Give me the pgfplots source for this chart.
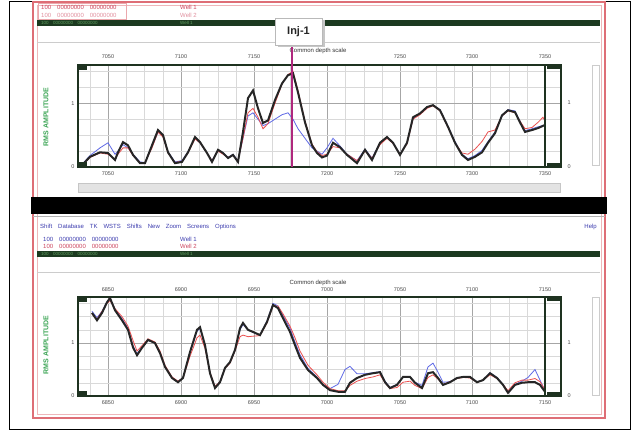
\documentclass[border=0pt]{standalone}
\usepackage{pgfplots}
\pgfplotsset{compat=1.18}
\usepackage{fontspec}
\setmainfont{Liberation Sans}
\definecolor{frame}{RGB}{30,50,32}
\definecolor{dkgreen}{RGB}{28,58,32}
\definecolor{redb}{RGB}{222,110,118}
\definecolor{txtred}{RGB}{205,70,95}
\definecolor{txtblue}{RGB}{60,60,175}
\definecolor{labgreen}{RGB}{60,165,85}
\definecolor{inj}{RGB}{175,40,125}
\definecolor{cred}{RGB}{235,80,80}
\definecolor{cblue}{RGB}{95,105,230}
\newcommand{\tf}{\fontsize{5.5}{6}\selectfont}
\newcommand{\hf}{\fontsize{6}{7}\selectfont}
\pgfplotsset{panel/.style={
  scale only axis, width=483pt, anchor=south west,
  xmin=78, xmax=561, ymin=0,
  xtick={108,181,254,327,400,472,545},
  minor xtick={90,126,144,163,199,218,236,272,290,309,345,364,382,418,436,454,490,509,527},
  ytick={0,1},
  grid=both,
  major grid style={gray!70, line width=0.6pt},
  minor grid style={gray!30, line width=0.45pt},
  axis line style={line width=2pt, draw=frame},
  tick style={draw=none},
  tick label style={font=\tf, text=gray!60!black},
  /pgf/number format/assume math mode=true,
  xticklabel style={yshift=-1pt},
}}
\begin{document}
\begin{tikzpicture}[x=1pt,y=1pt]
\path[use as bounding box, fill=white] (0,0) rectangle (635,433);
% outer frame
\draw[black, line width=0.8pt] (9,432) rectangle (630,4);
% red panel border
\draw[redb, line width=2.4pt] (33,431) rectangle (605,15);
\draw[redb!50, line width=0.5pt] (37,428) rectangle (601,19);
% black divider
\fill[black] (31,433-197) rectangle (607,433-214);
\draw[gray!60, line width=0.8pt] (33,433-216) -- (605,433-216);
% upper header
\draw[redb!60, line width=0.4pt] (38,433-3) rectangle (126,433-19);
\node[anchor=west, font=\hf, text=txtred, inner sep=0] at (41,433-7) {100\quad 00000000\quad 00000000};
\node[anchor=west, font=\hf, text=txtred, inner sep=0] at (180,433-7) {Well 1};
\node[anchor=west, font=\hf, text=txtred!60, inner sep=0] at (41,433-15) {100\quad 00000000\quad 00000000};
\node[anchor=west, font=\hf, text=txtred!60, inner sep=0] at (180,433-15) {Well 2};
\fill[dkgreen] (37,433-20.5) rectangle (600,433-26);
\node[anchor=west, font=\fontsize{4.5}{5}\selectfont, text=green!25!gray, inner sep=0] at (41,433-23.3) {100\quad 00000000\quad 00000000};
\node[anchor=west, font=\fontsize{4.5}{5}\selectfont, text=green!25!gray, inner sep=0] at (180,433-23.3) {Well 1};
\draw[gray!40, line width=0.6pt] (37,433-42) -- (600,433-42);
% upper scrollbars
\fill[gray!22] (78,433-183) rectangle (560,433-192);
\draw[gray!45, line width=0.4pt] (78,433-183) rectangle (560,433-192);
\draw[gray!40, line width=0.6pt] (592,433-65) rectangle (599,433-165);
% lower header
\node[anchor=west, font=\hf, text=txtblue, inner sep=0] at (40,433-227) {Shift\quad Database\quad TK\quad WSTS\quad Shifts\quad New\quad Zoom\quad Screens\quad Options};
\node[anchor=east, font=\hf, text=txtblue, inner sep=0] at (597,433-227) {Help};
\node[anchor=west, font=\hf, text=txtblue, inner sep=0] at (43,433-239) {100\quad 00000000\quad 00000000};
\node[anchor=west, font=\hf, text=txtblue, inner sep=0] at (180,433-239) {Well 1};
\node[anchor=west, font=\hf, text=txtred, inner sep=0] at (43,433-246.5) {100\quad 00000000\quad 00000000};
\node[anchor=west, font=\hf, text=txtred, inner sep=0] at (180,433-246.5) {Well 2};
\fill[dkgreen] (37,433-251) rectangle (600,433-257);
\node[anchor=west, font=\fontsize{4.5}{5}\selectfont, text=green!25!gray, inner sep=0] at (41,433-254) {100\quad 00000000\quad 00000000};
\node[anchor=west, font=\fontsize{4.5}{5}\selectfont, text=green!25!gray, inner sep=0] at (180,433-254) {Well 1};
\draw[gray!40, line width=0.6pt] (37,433-272) -- (600,433-272);
\draw[gray!40, line width=0.6pt] (592,433-297) rectangle (599,433-395);

% ---------- upper panel ----------
\begin{axis}[panel, at={(78pt,266pt)}, height=102pt, ymax=1.6,
  minor ytick={0.25,0.5,0.75,1.25,1.5},
  xticklabels={7050,7100,7150,7200,7250,7300,7350}]
\addplot[cblue, line width=0.8pt] coordinates {
(82,0.04)(90,0.18)(100,0.3)(108,0.38)(115,0.2)(118,0.25)(123,0.35)(128,0.3)(133,0.2)(140,0.08)(145,0.07)(152,0.32)(158,0.55)(163,0.48)(168,0.24)(175,0.08)(182,0.1)(188,0.24)(195,0.45)(200,0.38)(207,0.22)(212,0.1)(218,0.26)(223,0.22)(228,0.15)(233,0.2)(238,0.1)(243,0.45)(248,0.8)(253,0.85)(258,0.75)(263,0.65)(268,0.68)(275,0.75)(282,0.82)(288,0.85)(293,0.75)(298,0.6)(305,0.45)(312,0.3)(317,0.25)(322,0.2)(327,0.3)(333,0.45)(340,0.33)(347,0.2)(357,0.1)(365,0.28)(372,0.14)(380,0.38)(387,0.47)(393,0.38)(400,0.2)(407,0.38)(413,0.76)(420,0.84)(427,0.93)(433,0.97)(440,0.9)(448,0.64)(455,0.4)(462,0.2)(468,0.13)(475,0.18)(482,0.26)(488,0.4)(495,0.55)(502,0.8)(508,0.9)(515,0.88)(520,0.72)(525,0.57)(532,0.6)(538,0.63)(545,0.66)};
\addplot[cred, line width=0.8pt] coordinates {
(82,0.03)(90,0.15)(100,0.22)(108,0.2)(115,0.12)(118,0.2)(123,0.3)(128,0.3)(133,0.18)(140,0.07)(145,0.07)(152,0.3)(158,0.55)(163,0.47)(168,0.22)(175,0.07)(182,0.09)(188,0.22)(195,0.44)(200,0.38)(207,0.22)(212,0.1)(218,0.25)(223,0.2)(228,0.15)(233,0.18)(238,0.1)(243,0.45)(248,0.85)(253,0.92)(258,0.78)(263,0.6)(268,0.68)(275,1.0)(282,1.3)(288,1.45)(293,1.5)(298,1.2)(305,0.72)(312,0.36)(317,0.24)(322,0.18)(327,0.2)(333,0.32)(340,0.3)(347,0.2)(357,0.1)(365,0.25)(372,0.14)(380,0.35)(387,0.45)(393,0.37)(400,0.2)(407,0.36)(413,0.75)(420,0.82)(427,0.92)(433,0.96)(440,0.88)(448,0.62)(455,0.38)(462,0.22)(468,0.2)(475,0.28)(482,0.4)(488,0.55)(495,0.58)(502,0.8)(508,0.88)(515,0.85)(520,0.72)(525,0.6)(532,0.62)(538,0.7)(543,0.78)(545,0.72)};
\addplot[black!85, line width=2pt] coordinates {
(82,0.03)(90,0.16)(100,0.23)(108,0.22)(115,0.11)(118,0.23)(123,0.39)(128,0.34)(133,0.19)(140,0.06)(145,0.06)(152,0.34)(158,0.58)(163,0.5)(168,0.23)(175,0.06)(182,0.08)(188,0.23)(195,0.47)(200,0.39)(207,0.22)(212,0.08)(218,0.27)(223,0.22)(228,0.14)(233,0.19)(238,0.08)(243,0.55)(248,1.08)(253,1.2)(258,0.92)(263,0.69)(268,0.73)(275,1.05)(282,1.31)(288,1.44)(293,1.47)(298,1.17)(305,0.7)(312,0.34)(317,0.22)(322,0.15)(327,0.18)(333,0.38)(340,0.31)(347,0.19)(357,0.06)(365,0.27)(372,0.11)(380,0.38)(387,0.47)(393,0.38)(400,0.19)(407,0.38)(413,0.78)(420,0.84)(427,0.94)(433,0.97)(440,0.89)(448,0.63)(455,0.38)(462,0.19)(468,0.11)(475,0.16)(482,0.23)(488,0.38)(495,0.53)(502,0.81)(508,0.89)(515,0.86)(520,0.7)(525,0.55)(532,0.58)(538,0.61)(545,0.66)};
\end{axis}

% ---------- lower panel ----------
\begin{axis}[panel, at={(78pt,37pt)}, height=99pt, ymax=1.87,
  minor ytick={0.25,0.5,0.75,1.25,1.5,1.75},
  xticklabels={6850,6900,6950,7000,7050,7100,7150}]
\addplot[cblue, line width=0.8pt] coordinates {
(92,1.6)(97,1.48)(102,1.6)(107,1.78)(110,1.84)(115,1.64)(122,1.46)(128,1.28)(133,0.95)(137,0.8)(142,0.92)(148,1.05)(155,1.0)(160,0.82)(165,0.56)(172,0.35)(178,0.27)(183,0.35)(190,0.82)(197,1.22)(200,1.28)(205,0.95)(210,0.44)(215,0.17)(220,0.27)(225,0.53)(230,0.64)(235,0.86)(240,1.25)(243,1.35)(248,1.25)(253,1.2)(260,1.15)(267,1.42)(273,1.75)(278,1.7)(283,1.52)(290,1.28)(295,1.02)(300,0.78)(308,0.52)(317,0.36)(323,0.22)(330,0.14)(338,0.22)(345,0.5)(350,0.56)(357,0.42)(365,0.42)(373,0.44)(380,0.46)(385,0.28)(390,0.16)(397,0.22)(403,0.36)(410,0.36)(415,0.26)(422,0.2)(428,0.55)(433,0.62)(438,0.45)(443,0.26)(450,0.27)(457,0.34)(463,0.36)(470,0.36)(477,0.27)(483,0.3)(490,0.44)(497,0.35)(503,0.22)(508,0.08)(515,0.22)(522,0.28)(528,0.35)(535,0.5)(540,0.3)(545,0.1)};
\addplot[cred, line width=0.8pt] coordinates {
(92,1.55)(97,1.45)(102,1.6)(107,1.75)(110,1.8)(115,1.65)(122,1.5)(128,1.32)(133,1.05)(137,0.85)(142,0.95)(148,1.08)(155,1.02)(160,0.85)(165,0.58)(172,0.36)(178,0.28)(183,0.34)(190,0.75)(197,1.1)(200,1.15)(205,0.9)(210,0.45)(215,0.18)(220,0.27)(225,0.52)(230,0.62)(235,0.85)(240,1.12)(243,1.15)(248,1.12)(253,1.13)(260,1.14)(267,1.38)(273,1.7)(278,1.7)(283,1.55)(290,1.32)(295,1.1)(300,0.85)(308,0.58)(317,0.4)(323,0.26)(330,0.14)(338,0.1)(345,0.1)(350,0.2)(357,0.28)(365,0.33)(373,0.36)(380,0.4)(385,0.25)(390,0.14)(397,0.16)(403,0.26)(410,0.28)(415,0.2)(422,0.14)(428,0.35)(433,0.4)(438,0.32)(443,0.22)(450,0.27)(457,0.33)(463,0.35)(470,0.34)(477,0.26)(483,0.3)(490,0.4)(497,0.33)(503,0.22)(508,0.1)(515,0.25)(522,0.3)(528,0.3)(535,0.33)(540,0.27)(545,0.12)};
\addplot[black!85, line width=2pt] coordinates {
(92,1.57)(97,1.43)(102,1.57)(107,1.77)(110,1.85)(115,1.62)(122,1.43)(128,1.25)(133,0.92)(137,0.77)(142,0.91)(148,1.06)(155,1.0)(160,0.81)(165,0.55)(172,0.34)(178,0.26)(183,0.34)(190,0.83)(197,1.25)(200,1.3)(205,0.96)(210,0.43)(215,0.15)(220,0.26)(225,0.53)(230,0.64)(235,0.87)(240,1.28)(243,1.38)(248,1.25)(253,1.21)(260,1.15)(267,1.4)(273,1.72)(278,1.66)(283,1.47)(290,1.21)(295,0.96)(300,0.72)(308,0.49)(317,0.34)(323,0.21)(330,0.11)(338,0.08)(345,0.08)(350,0.25)(357,0.34)(365,0.4)(373,0.43)(380,0.45)(385,0.26)(390,0.15)(397,0.21)(403,0.36)(410,0.36)(415,0.25)(422,0.15)(428,0.43)(433,0.45)(438,0.34)(443,0.21)(450,0.26)(457,0.34)(463,0.36)(470,0.36)(477,0.26)(483,0.3)(490,0.43)(497,0.34)(503,0.21)(508,0.06)(515,0.21)(522,0.25)(528,0.26)(535,0.26)(540,0.21)(545,0.08)};
\end{axis}

% frame details: right strip line and corner blocks
\foreach \yb/\yt in {266/368, 37/136}{
  \draw[frame, line width=1.2pt] (545,\yb) -- (545,\yt);
  \fill[frame] (78,\yt) rectangle (87,\yt-5);
  \fill[frame] (78,\yb) rectangle (87,\yb+5);
  \fill[frame] (547,\yt) rectangle (561,\yt-4);
  \fill[frame] (547,\yb) rectangle (561,\yb+4);
}
% top tick labels
\foreach \x/\l in {108/7050,181/7100,254/7150,400/7250,472/7300,545/7350}{
  \node[font=\tf, text=gray!60!black] at (\x,433-57) {\l};}
\foreach \x/\l in {108/6850,181/6900,254/6950,327/7000,400/7050,472/7100,545/7150}{
  \node[font=\tf, text=gray!60!black] at (\x,433-290) {\l};}
% right tick labels
\node[font=\tf, text=gray!60!black, anchor=west] at (564,433-103) {1};
\node[font=\tf, text=gray!60!black, anchor=west] at (564,433-167) {0};
\node[font=\tf, text=gray!60!black, anchor=west] at (564,433-343) {1};
\node[font=\tf, text=gray!60!black, anchor=west] at (564,433-396) {0};
% titles
\node[font=\hf, text=black!80] at (318,433-51) {Common depth scale};
\node[font=\hf, text=black!80] at (318,433-283) {Common depth scale};
% y labels
\node[rotate=90, font=\bfseries\fontsize{7}{8}\selectfont, text=labgreen] at (46,433-117) {RMS AMPLITUDE};
\node[rotate=90, font=\bfseries\fontsize{7}{8}\selectfont, text=labgreen] at (46,433-345) {RMS AMPLITUDE};
% Inj-1 marker
\draw[inj, line width=1.1pt] (292,433-45) -- (292,433-167);
\fill[gray!45] (277.5,433-47.5) rectangle (324.5,433-20.5);
\filldraw[fill=white, draw=gray!55, line width=0.6pt] (275,433-45) rectangle (322,433-18);
\node[font=\bfseries\fontsize{11}{12}\selectfont, text=black!85] at (298.5,433-31.5) {Inj-1};
\end{tikzpicture}
\end{document}
